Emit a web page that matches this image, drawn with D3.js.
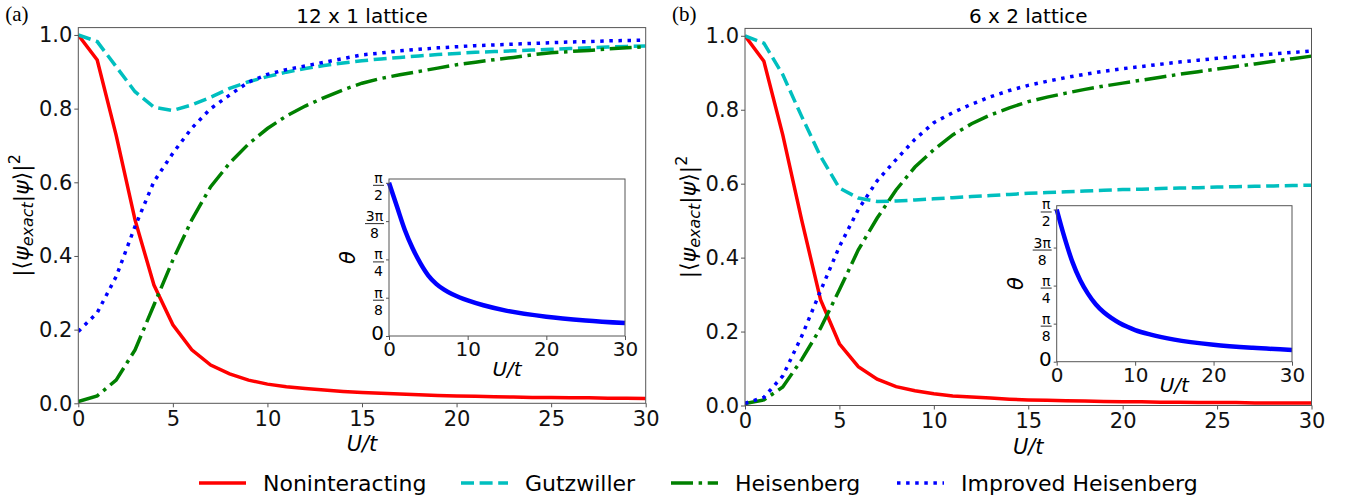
<!DOCTYPE html>
<html>
<head>
<meta charset="utf-8">
<script src="https://cdn.jsdelivr.net/npm/d3@7"></script>
<style>
  body { margin: 0; background: #fff; }
  svg { display: block; font-family: "DejaVu Sans", sans-serif; }
</style>
</head>
<body>
<div id="chart"></div>
<script>
const width = 1354;
const height = 500;

// U/t grid of the main curves
const uValues = [0,1,2,3,4,5,6,7,8,9,10,11,12,13,14,15,16,17,18,19,20,21,22,23,24,25,26,27,28,29,30];

// (a) 12 x 1 lattice
const red12   = [1.000,0.932,0.728,0.498,0.321,0.213,0.145,0.104,0.080,0.063,0.052,0.045,0.040,0.036,0.032,0.029,0.027,0.025,0.023,0.021,0.020,0.019,0.018,0.017,0.016,0.016,0.015,0.015,0.014,0.014,0.013];
const cyan12  = [1.000,0.982,0.914,0.846,0.804,0.795,0.810,0.831,0.855,0.873,0.887,0.899,0.909,0.917,0.924,0.930,0.935,0.939,0.943,0.947,0.950,0.953,0.955,0.957,0.959,0.961,0.963,0.965,0.967,0.969,0.970];
const green12 = [0.005,0.020,0.063,0.145,0.267,0.389,0.498,0.588,0.652,0.704,0.746,0.780,0.807,0.830,0.851,0.869,0.882,0.892,0.901,0.910,0.919,0.926,0.933,0.939,0.946,0.952,0.955,0.958,0.962,0.965,0.968];
const blue12  = [0.195,0.246,0.344,0.480,0.602,0.679,0.747,0.800,0.837,0.872,0.893,0.906,0.916,0.926,0.936,0.946,0.951,0.957,0.961,0.965,0.968,0.971,0.973,0.975,0.977,0.979,0.981,0.982,0.984,0.985,0.986];

// (b) 6 x 2 lattice
const red62   = [1.000,0.931,0.732,0.502,0.286,0.167,0.105,0.071,0.051,0.040,0.032,0.026,0.023,0.020,0.017,0.015,0.014,0.013,0.012,0.011,0.010,0.010,0.009,0.009,0.008,0.008,0.008,0.007,0.007,0.007,0.007];
const cyan62  = [1.000,0.980,0.895,0.782,0.674,0.588,0.561,0.552,0.553,0.556,0.559,0.562,0.565,0.568,0.571,0.574,0.576,0.578,0.580,0.582,0.584,0.585,0.587,0.588,0.589,0.591,0.592,0.593,0.594,0.595,0.596];
const green62 = [0.005,0.015,0.050,0.124,0.209,0.313,0.421,0.507,0.583,0.645,0.692,0.732,0.762,0.786,0.805,0.822,0.834,0.845,0.855,0.864,0.872,0.880,0.888,0.896,0.903,0.910,0.917,0.924,0.931,0.938,0.945];
const blue62  = [0.006,0.022,0.080,0.187,0.310,0.430,0.530,0.608,0.665,0.720,0.765,0.792,0.815,0.835,0.852,0.866,0.877,0.887,0.896,0.904,0.911,0.917,0.923,0.929,0.934,0.939,0.943,0.947,0.951,0.955,0.959];

// insets: theta vs U/t
const thetaU  = [0,1,2,3,4,5,6,7,8,9,10,12,15,20,25,30];
const theta12 = [1.571,1.330,1.090,0.900,0.745,0.620,0.535,0.475,0.430,0.395,0.365,0.315,0.258,0.198,0.160,0.133];
const theta62 = [1.571,1.280,1.030,0.840,0.700,0.590,0.510,0.450,0.400,0.360,0.327,0.280,0.228,0.175,0.143,0.121];

const xTicks = [0,5,10,15,20,25,30];
const yTicks = [0,0.2,0.4,0.6,0.8,1.0];
const insetXTicks = [0,10,20,30];
const insetYTicks = [0, Math.PI/8, Math.PI/4, 3*Math.PI/8, Math.PI/2];
const insetYLabels = [['0'], ['π','8'], ['π','4'], ['3π','8'], ['π','2']];

const seriesNames = ['Noninteracting', 'Gutzwiller', 'Heisenberg', 'Improved Heisenberg'];
const seriesColors = ['#ff0000', '#00bfbf', '#008000', '#0000ff'];
const seriesDash = [null, '13,5.6', '22,5.6,3.5,5.6', '3.5,5.6'];
const lineW = 3.5;

const panels = [
    { id: 'a', tag: '(a)', title: '12 x 1 lattice',
      left: 78.3, right: 645.7, top: 27.6, bottom: 403.3,
      series: [red12, cyan12, green12, blue12], theta: theta12,
      inset: { left: 389, right: 625, top: 179, bottom: 336, uDy: 40 } },
    { id: 'b', tag: '(b)', title: '6 x 2 lattice',
      left: 745, right: 1311.5, top: 28.4, bottom: 405.5,
      series: [red62, cyan62, green62, blue62], theta: theta62,
      inset: { left: 1056.7, right: 1292, top: 205.7, bottom: 361.7, uDy: 30.5 } }
];

const svg = d3.select('#chart')
    .append('svg')
    .attr('width', width)
    .attr('height', height);

function styleAxis(g, size) {
    g.select('.domain').remove();
    g.selectAll('.tick line').attr('stroke', '#555');
    g.selectAll('.tick text')
        .attr('fill', '#111')
        .attr('font-size', size)
        .attr('font-family', '"DejaVu Sans", sans-serif');
}

function drawPanel(p) {
    const x = d3.scaleLinear().domain([0, 30]).range([p.left, p.right]);
    const y = d3.scaleLinear().domain([0, 1.02]).range([p.bottom, p.top]);

    svg.append('clipPath').attr('id', 'clip-' + p.id)
        .append('rect')
        .attr('x', p.left).attr('y', p.top)
        .attr('width', p.right - p.left).attr('height', p.bottom - p.top);

    const line = d3.line()
        .x((d, i) => x(uValues[i]))
        .y(d => y(d));

    const lines = svg.append('g').attr('clip-path', `url(#clip-${p.id})`);
    p.series.forEach((s, k) => {
        lines.append('path')
            .datum(s)
            .attr('d', line)
            .attr('fill', 'none')
            .attr('stroke', seriesColors[k])
            .attr('stroke-width', lineW)
            .attr('stroke-dasharray', seriesDash[k]);
    });

    // axes
    const xa = svg.append('g')
        .attr('transform', `translate(0,${p.bottom})`)
        .call(d3.axisBottom(x).tickValues(xTicks).tickSize(4).tickPadding(4).tickFormat(d3.format('d')));
    styleAxis(xa, 21);

    const ya = svg.append('g')
        .attr('transform', `translate(${p.left},0)`)
        .call(d3.axisLeft(y).tickValues(yTicks).tickSize(4).tickPadding(2).tickFormat(d3.format('.1f')));
    styleAxis(ya, 21);

    svg.append('rect')
        .attr('x', p.left).attr('y', p.top)
        .attr('width', p.right - p.left).attr('height', p.bottom - p.top)
        .attr('fill', 'none').attr('stroke', '#555').attr('stroke-width', 1);

    // labels
    svg.append('text')
        .attr('x', (p.left + p.right) / 2).attr('y', 22.5)
        .attr('text-anchor', 'middle').attr('font-size', 20)
        .text(p.title);

    svg.append('text')
        .attr('x', p.left - 73).attr('y', 21)
        .attr('font-family', '"Liberation Serif", serif').attr('font-size', 21)
        .text(p.tag);

    svg.append('text')
        .attr('x', (p.left + p.right) / 2).attr('y', p.bottom + 48)
        .attr('text-anchor', 'middle').attr('font-size', 21).attr('font-style', 'italic')
        .text('U/t');

    const yl = svg.append('text')
        .attr('transform', `translate(${p.left - 49},${(p.top + p.bottom) / 2}) rotate(-90)`)
        .attr('text-anchor', 'middle').attr('font-size', 22);
    yl.append('tspan').text('|⟨');
    yl.append('tspan').attr('font-style', 'italic').text('ψ');
    yl.append('tspan').attr('font-style', 'italic').attr('font-size', 16).attr('dy', 4).text('exact');
    yl.append('tspan').attr('dy', -4).text('|');
    yl.append('tspan').attr('font-style', 'italic').text('ψ');
    yl.append('tspan').text('⟩|');
    yl.append('tspan').attr('font-size', 16).attr('dy', -9).text('2');

    drawInset(p);
}

function drawInset(p) {
    const b = p.inset;
    const x = d3.scaleLinear().domain([0, 30]).range([b.left, b.right]);
    const y = d3.scaleLinear().domain([0, 1.61]).range([b.bottom, b.top]);

    svg.append('rect')
        .attr('x', b.left).attr('y', b.top)
        .attr('width', b.right - b.left).attr('height', b.bottom - b.top)
        .attr('fill', '#fff');

    svg.append('path')
        .datum(p.theta)
        .attr('d', d3.line().x((d, i) => x(thetaU[i])).y(d => y(d)).curve(d3.curveMonotoneX))
        .attr('fill', 'none')
        .attr('stroke', '#0000ff')
        .attr('stroke-width', 4.5);

    const xa = svg.append('g')
        .attr('transform', `translate(0,${b.bottom})`)
        .call(d3.axisBottom(x).tickValues(insetXTicks).tickSize(4).tickPadding(2).tickFormat(d3.format('d')));
    styleAxis(xa, 20);

    const ya = svg.append('g')
        .attr('transform', `translate(${b.left},0)`)
        .call(d3.axisLeft(y).tickValues(insetYTicks).tickSize(3).tickFormat(''));
    styleAxis(ya, 14);

    svg.append('rect')
        .attr('x', b.left).attr('y', b.top)
        .attr('width', b.right - b.left).attr('height', b.bottom - b.top)
        .attr('fill', 'none').attr('stroke', '#555').attr('stroke-width', 1);

    // fraction tick labels
    insetYTicks.forEach((v, i) => {
        const t = y(v);
        const lab = insetYLabels[i];
        if (lab.length === 1) {
            svg.append('text')
                .attr('x', b.left - 5).attr('y', t - 3).attr('dy', '0.35em')
                .attr('text-anchor', 'end').attr('font-size', 20)
                .text(lab[0]);
            return;
        }
        const w = lab[0].length > 1 ? 17 : 9;
        const cx = b.left - 6 - w / 2;
        svg.append('text')
            .attr('x', cx).attr('y', t)
            .attr('text-anchor', 'middle').attr('font-size', 14)
            .text(lab[0]);
        svg.append('line')
            .attr('x1', cx - w / 2 - 1).attr('x2', cx + w / 2 + 1)
            .attr('y1', t + 2.5).attr('y2', t + 2.5)
            .attr('stroke', '#111').attr('stroke-width', 0.9);
        svg.append('text')
            .attr('x', cx).attr('y', t + 17)
            .attr('text-anchor', 'middle').attr('font-size', 14)
            .text(lab[1]);
    });

    svg.append('text')
        .attr('transform', `translate(${b.left - 34},${(b.top + b.bottom) / 2}) rotate(-90)`)
        .attr('text-anchor', 'middle').attr('font-size', 21).attr('font-style', 'italic')
        .text('θ');

    svg.append('text')
        .attr('x', (b.left + b.right) / 2).attr('y', b.bottom + b.uDy)
        .attr('text-anchor', 'middle').attr('font-size', 20).attr('font-style', 'italic')
        .text('U/t');
}

function drawLegend() {
    const textX = [263, 525, 735, 961];
    const g = svg.append('g');
    seriesNames.forEach((name, k) => {
        g.append('line')
            .attr('x1', textX[k] - 64).attr('x2', textX[k] - 17)
            .attr('y1', 483).attr('y2', 483)
            .attr('stroke', seriesColors[k])
            .attr('stroke-width', lineW)
            .attr('stroke-dasharray', seriesDash[k]);
        g.append('text')
            .attr('x', textX[k]).attr('y', 490.5)
            .attr('font-size', 22)
            .text(name);
    });
}

panels.forEach(drawPanel);
drawLegend();
</script>
</body>
</html>
